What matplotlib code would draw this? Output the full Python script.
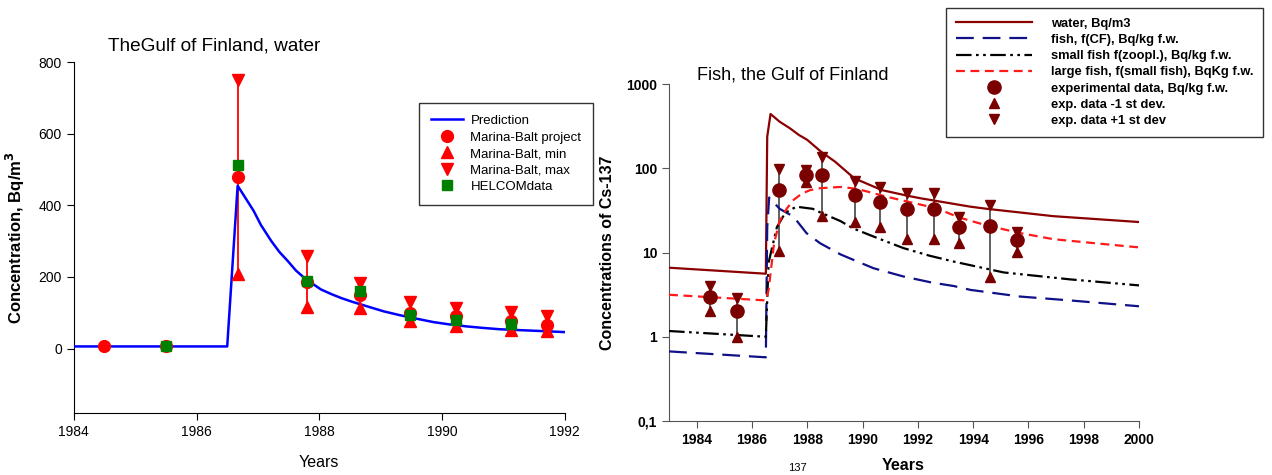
import matplotlib
matplotlib.use("Agg")
from matplotlib import pyplot as plt
from matplotlib.ticker import FixedLocator, FixedFormatter, NullLocator

plt.rcParams['font.family'] = ['Liberation Sans', 'DejaVu Sans']

# ---- left chart: water, Gulf of Finland ----
pred_years = [1984.0, 1986.5, 1986.67, 1986.8, 1986.93, 1987.05, 1987.22, 1987.35, 1987.49,
              1987.62, 1987.76, 1987.9, 1988.03, 1988.2, 1988.36, 1988.55, 1988.78, 1989.05,
              1989.32, 1989.6, 1989.86, 1990.1, 1990.4, 1990.65, 1990.94, 1991.2, 1991.48,
              1991.75, 1992.0]
pred_vals = [6, 6, 455, 420, 385, 345, 300, 270, 244,
             218, 197, 180, 165, 152, 141, 130, 118, 104,
             93, 83, 74, 68, 62, 58, 54, 52, 50,
             48, 46]

mb_years = [1984.5, 1985.5, 1986.67, 1987.8, 1988.66, 1989.48, 1990.22, 1991.13, 1991.71]
mb_vals = [8, 7, 478, 185, 149, 99, 90, 76, 67]
mb_min_years = [1986.67, 1987.8, 1988.66, 1989.48, 1990.22, 1991.13, 1991.71]
mb_min = [208, 115, 113, 76, 62, 52, 50]
mb_max = [750, 258, 183, 130, 113, 102, 90]

helcom_years = [1985.5, 1986.67, 1987.8, 1988.66, 1989.48, 1990.22, 1991.13]
helcom_vals = [7, 513, 188, 160, 95, 80, 69]

# ---- right chart: fish, Gulf of Finland ----
water_years = [1983.0, 1986.5, 1986.55, 1986.67, 1987.0, 1987.36, 1987.7, 1988.0, 1988.5,
               1989.0, 1989.7, 1990.7, 1991.65, 1992.1, 1993.9, 1994.5, 1996.9, 2000.0]
water_vals = [6.6, 5.6, 237, 441, 357, 300, 248, 217, 157,
              120, 76, 55, 47, 44, 35, 33, 27, 23]

cf_years = [1983.0, 1986.5, 1986.55, 1986.62, 1987.0, 1987.5, 1987.97, 1988.46, 1989.2,
            1989.66, 1990.4, 1991.47, 1992.5, 1993.3, 1993.9, 1995.7, 1997.5, 2000.0]
cf_vals = [0.67, 0.57, 20, 45, 33, 26.7, 17, 12.9, 9.5,
           8.2, 6.5, 5.2, 4.4, 4.0, 3.6, 3.0, 2.7, 2.3]

small_years = [1983.0, 1986.5, 1986.6, 1986.9, 1987.2, 1987.6, 1988.2, 1988.46, 1989.2,
               1989.66, 1990.5, 1991.47, 1992.4, 1993.3, 1995.1, 1997.5, 2000.0]
small_vals = [1.17, 1.0, 7.6, 20, 29.5, 35, 33, 30, 23.6,
              19.3, 15, 11.3, 9.2, 7.8, 5.8, 4.8, 4.07]

large_years = [1983.0, 1986.5, 1986.6, 1986.8, 1987.0, 1987.25, 1987.5, 1987.8, 1988.1,
               1988.46, 1989.2, 1989.8, 1990.86, 1991.8, 1992.67, 1993.5, 1994.48, 1995.7,
               1996.9, 1998.5, 2000.0]
large_vals = [3.15, 2.7, 3.6, 13, 23.6, 33, 42, 50, 55,
              58, 60, 57, 46, 39, 33.5, 26, 21, 17,
              14.4, 12.8, 11.5]

exp_years = [1984.48, 1985.47, 1986.97, 1987.97, 1988.54, 1989.72, 1990.62, 1991.6,
             1992.6, 1993.5, 1994.6, 1995.6]
exp_vals = [3.0, 2.0, 55, 83, 83, 48, 40, 33, 33, 20, 20.7, 14.1]
exp_low = [2.0, 1.0, 10.3, 69, 27.5, 23, 20, 14.4, 14.4, 13.1, 5.1, 10.2]
exp_high = [4.0, 2.9, 98, 95, 137, 71, 60, 51, 51, 26.7, 36.7, 17.7]

fig = plt.figure(figsize=(12.72, 4.75), dpi=100)

# ================= left =================
ax1 = fig.add_axes([0.058, 0.1305, 0.386, 0.7385])
ax1.vlines(mb_min_years, mb_min, mb_max, color='red', lw=1.3, zorder=2)
ax1.plot(pred_years, pred_vals, color='blue', lw=1.8, label='Prediction', zorder=3)
ax1.plot(mb_years, mb_vals, 'o', color='red', ms=8.5, ls='none', label='Marina-Balt project', zorder=4)
ax1.plot(mb_min_years, mb_min, '^', color='red', ms=8, ls='none', label='Marina-Balt, min', zorder=4)
ax1.plot(mb_min_years, mb_max, 'v', color='red', ms=8, ls='none', label='Marina-Balt, max', zorder=4)
ax1.plot(helcom_years, helcom_vals, 's', color='green', ms=7, ls='none', label='HELCOMdata', zorder=5)

ax1.set_xlim(1984, 1992)
ax1.set_ylim(-180, 800)
ax1.set_xticks([1984, 1986, 1988, 1990, 1992])
ax1.set_yticks([0, 200, 400, 600, 800])
ax1.tick_params(direction='out', labelsize=10, length=5)
for s in ['top', 'right']:
    ax1.spines[s].set_visible(False)
ax1.set_xlabel('Years', fontsize=11.5, labelpad=12)
ax1.set_ylabel('Concentration, Bq/m$^\\mathbf{3}$', fontsize=12, fontweight='bold', labelpad=8)
fig.text(0.085, 0.893, 'TheGulf of Finland, water', fontsize=13.7, ha='left', va='baseline')

leg1 = ax1.legend(loc='upper left', bbox_to_anchor=(0.3294, 0.7832), bbox_transform=fig.transFigure,
                  fontsize=9.5, frameon=True, fancybox=False, edgecolor='black',
                  handlelength=2.4, handletextpad=0.6, labelspacing=0.32, borderpad=0.9,
                  borderaxespad=0)
leg1.get_frame().set_linewidth(1.0)

# ================= right =================
ax2 = fig.add_axes([0.526, 0.1137, 0.3695, 0.7094])
ax2.set_yscale('log')
ax2.vlines(exp_years, exp_low, exp_high, color='#444444', lw=1.2, zorder=2)
l_water, = ax2.plot(water_years, water_vals, color='#8b0000', lw=1.6, zorder=3)
l_cf, = ax2.plot(cf_years, cf_vals, color='#101088', lw=1.6, dashes=(8, 4), zorder=3)
l_small, = ax2.plot(small_years, small_vals, color='black', lw=1.6,
                    dashes=(7, 2, 1.2, 2, 1.2, 2), zorder=3)
l_large, = ax2.plot(large_years, large_vals, color='#ff1a1a', lw=1.6, dashes=(4, 2.5), zorder=3)
p_exp, = ax2.plot(exp_years, exp_vals, 'o', color='#7a0000', ms=9.5, ls='none', zorder=4)
p_lo, = ax2.plot(exp_years, exp_low, '^', color='#7a0000', ms=7.5, ls='none', zorder=4)
p_hi, = ax2.plot(exp_years, exp_high, 'v', color='#7a0000', ms=7.5, ls='none', zorder=4)

ax2.set_xlim(1983, 2000)
ax2.set_ylim(0.1, 1000)
ax2.set_xticks(list(range(1984, 2001, 2)))
ax2.yaxis.set_major_locator(FixedLocator([0.1, 1, 10, 100, 1000]))
ax2.yaxis.set_major_formatter(FixedFormatter(['0,1', '1', '10', '100', '1000']))
ax2.yaxis.set_minor_locator(NullLocator())
ax2.tick_params(direction='out', labelsize=10, length=5, color='#555555')
for lab in ax2.get_xticklabels() + ax2.get_yticklabels():
    lab.set_fontweight('bold')
for s in ['top', 'right']:
    ax2.spines[s].set_visible(False)
for s in ['left', 'bottom']:
    ax2.spines[s].set_color('#555555')
ax2.set_ylabel('Concentrations of Cs-137', fontsize=11.5, fontweight='bold', labelpad=8)
fig.text(0.71, 0.005, 'Years', fontsize=11.5, fontweight='bold', ha='center', va='bottom')
fig.text(0.627, 0.005, '137', fontsize=8, ha='center', va='bottom')
fig.text(0.548, 0.833, 'Fish, the Gulf of Finland', fontsize=13, ha='left', va='baseline')

handles = [l_water, l_cf, l_small, l_large, p_exp, p_lo, p_hi]
labels = ['water, Bq/m3', 'fish, f(CF), Bq/kg f.w.', 'small fish f(zoopl.), Bq/kg f.w.',
          'large fish, f(small fish), BqKg f.w.', 'experimental data, Bq/kg f.w.',
          'exp. data -1 st dev.', 'exp. data +1 st dev']
leg2 = fig.legend(handles, labels, loc='upper left', bbox_to_anchor=(0.7437, 0.983),
                  prop={'size': 9.3, 'weight': 'bold'}, frameon=True, fancybox=False,
                  edgecolor='black', handlelength=5.9, handletextpad=1.5, labelspacing=0.32,
                  borderpad=0.75, borderaxespad=0)
leg2.get_frame().set_linewidth(1.0)

fig.savefig('out.png', dpi=100)
